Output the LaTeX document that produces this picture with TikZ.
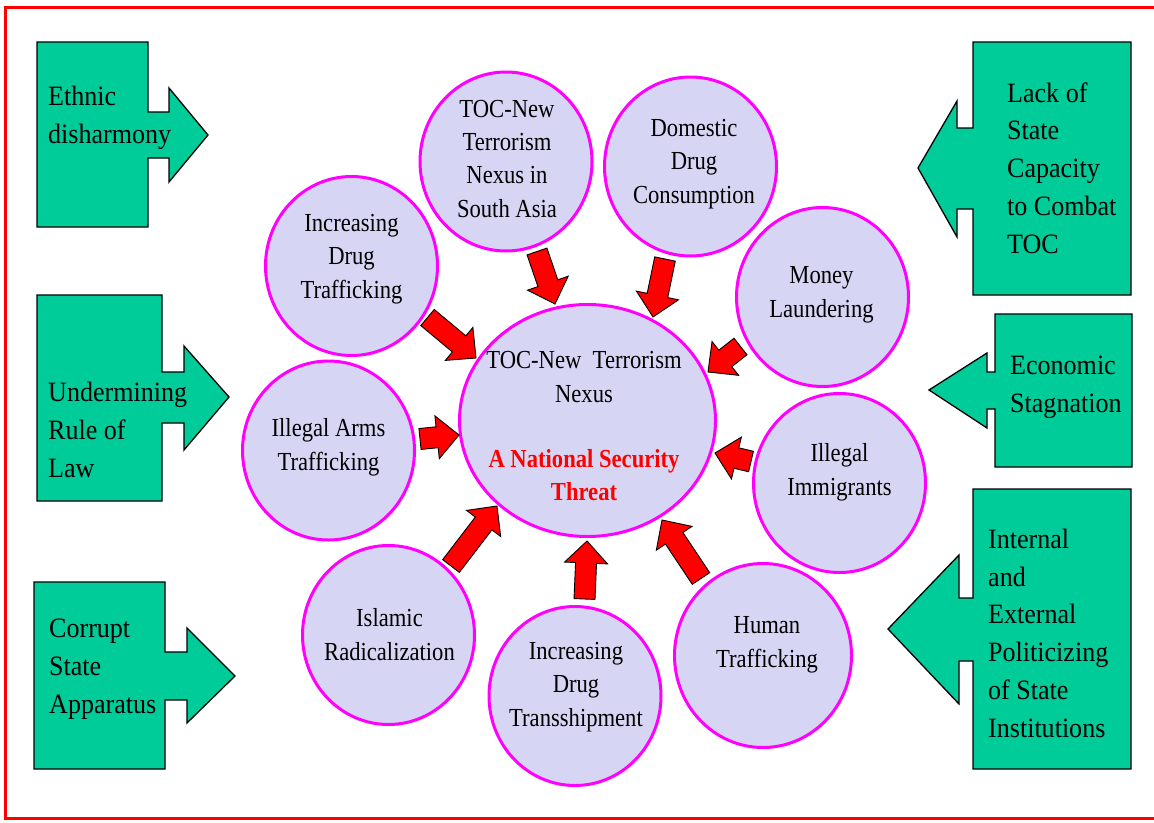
\documentclass[tikz,border=0pt]{standalone}
\usepackage{fontspec}
\setmainfont{Liberation Serif}
\newfontfamily\circf{Liberation Serif}[FakeStretch=0.87]
\newfontfamily\callf{Liberation Serif}[FakeStretch=0.93]
\usetikzlibrary{shapes.geometric,calc}
\definecolor{grn}{RGB}{0,204,153}
\definecolor{lav}{RGB}{214,214,244}
\definecolor{mag}{RGB}{255,0,255}
\definecolor{rd}{RGB}{255,0,0}
\newcommand\blkarrow[2]{%
  \path ($(#2)!22pt!(#1)$) coordinate (hb);
  \draw[redarr] ($(#1)!10.5pt!90:(#2)$) -- ($(hb)!10.5pt!90:(#2)$) -- ($(hb)!21.5pt!90:(#2)$) -- (#2)
    -- ($(hb)!21.5pt!-90:(#2)$) -- ($(hb)!10.5pt!-90:(#2)$) -- ($(#1)!10.5pt!-90:(#2)$) -- cycle;}
\tikzset{
  bub/.style={ellipse, draw=mag, fill=lav, line width=3, minimum width=172, minimum height=179, inner sep=0},
  bigbub/.style={ellipse, draw=mag, fill=lav, line width=3, minimum width=256, minimum height=232, inner sep=0},
  ctext/.style={anchor=base, align=center, inner sep=0, font=\circf\fontsize{26}{33.3}\selectfont},
  ltext/.style={anchor=base west, align=left, inner sep=0, font=\callf\fontsize{28}{37.7}\selectfont},
  callout/.style={draw=black, fill=grn, line width=1.3, line join=miter},
  redarr/.style={draw=black, fill=rd, line width=0.9, line join=miter},
}
\begin{document}
\begin{tikzpicture}[x=1pt,y=-1pt]
\useasboundingbox (0,0) rectangle (1154,822);
\fill[white] (0,0) rectangle (1154,822);
\draw[rd, line width=3.5] (5.5,7.5) rectangle (1170,818.5);

% left callouts (text anchors: baseline of last line)
\draw[callout] (37,42) -- (148,42) -- (148,112) -- (169,112) -- (169,88) -- (208,135) -- (169,182) -- (169,158) -- (148,158) -- (148,227) -- (37,227) -- cycle;
\node[ltext] (c1) at (48,143) {Ethnic\\disharmony};
\draw[callout] (37,295) -- (162,295) -- (162,372) -- (184,372) -- (184,346) -- (229,397) -- (184,450) -- (184,423) -- (162,423) -- (162,501) -- (37,501) -- cycle;
\node[ltext] (c2) at (48,477) {Undermining\\Rule of\\Law};
\draw[callout] (34,582) -- (165,582) -- (165,652) -- (187,652) -- (187,628) -- (235,676) -- (187,723) -- (187,700) -- (165,700) -- (165,769) -- (34,769) -- cycle;
\node[ltext] (c3) at (49,713) {Corrupt\\State\\Apparatus};

% right callouts
\draw[callout] (1131,42) -- (973,42) -- (973,128) -- (957,128) -- (957,101) -- (918,168) -- (957,237) -- (957,209) -- (973,209) -- (973,295) -- (1131,295) -- cycle;
\node[ltext] (c4) at (1007,253) {Lack of\\State\\Capacity\\to Combat\\TOC};
\draw[callout] (1132,314) -- (995,314) -- (995,372) -- (987,372) -- (987,353) -- (929,390) -- (987,428) -- (987,409) -- (995,409) -- (995,467) -- (1132,467) -- cycle;
\node[ltext] (c5) at (1010,412) {Economic\\Stagnation};
\draw[callout] (1131,489) -- (973,489) -- (973,598) -- (959,598) -- (959,555) -- (888,629) -- (959,704) -- (959,661) -- (973,661) -- (973,769) -- (1131,769) -- cycle;
\node[ltext] (c6) at (988,737) {Internal\\and\\External\\Politicizing\\of State\\Institutions};

% bubbles
\node[bub] (sa) at (506,161.5) {};
\node[bub] (idt) at (351.5,266) {};
\node[bub] (dd) at (690.5,166.5) {};
\node[bub] (ml) at (822.5,297) {};
\node[bub] (iat) at (328.5,450.5) {};
\node[bub] (ir) at (388.5,635) {};
\node[bub] (ids) at (575,696) {};
\node[bub, minimum width=177, minimum height=184] (ht) at (763,655.5) {};
\node[bub] (ii) at (839.5,483) {};
\node[bigbub] (nx) at (587.5,420.5) {};

\node[ctext] (tsa) at (507,217) {TOC-New\\Terrorism\\Nexus in\\South Asia};
\node[ctext] (tidt) at (351.5,298) {Increasing\\Drug\\Trafficking};
\node[ctext] (tdd) at (694,203) {Domestic\\Drug\\Consumption};
\node[ctext] (tml) at (821.5,317) {Money\\Laundering};
\node[ctext] (tiat) at (328.5,470) {Illegal Arms\\Trafficking};
\node[ctext] (tir) at (389.5,660) {Islamic\\Radicalization};
\node[ctext] (tids) at (576,726) {Increasing\\Drug\\Transshipment};
\node[ctext] (tht) at (767,667) {Human\\Trafficking};
\node[ctext] (tii) at (839.5,495) {Illegal\\Immigrants};
\node[ctext] (tnx) at (584,402) {TOC-New\ \ Terrorism\\Nexus};
\node[ctext, text=rd, font=\circf\bfseries\fontsize{26}{32.5}\selectfont] (tthr) at (584,500) {A National Security\\Threat};

% red arrows
\coordinate (a1t) at (537,251.5); \coordinate (a1p) at (555,304);
\coordinate (a2t) at (665,259);   \coordinate (a2p) at (653,317);
\coordinate (a3t) at (740.5,346.5); \coordinate (a3p) at (708,372);
\coordinate (a4t) at (427.5,317.5); \coordinate (a4p) at (476,358);
\coordinate (a5t) at (420,439);   \coordinate (a5p) at (459,435);
\coordinate (a6t) at (451,566);   \coordinate (a6p) at (497,506);
\coordinate (a7t) at (584.5,599); \coordinate (a7p) at (587,541);
\coordinate (a8t) at (701,578.5); \coordinate (a8p) at (662,520);
\coordinate (a9t) at (751,461.5); \coordinate (a9p) at (715,453);
\blkarrow{a1t}{a1p}
\blkarrow{a2t}{a2p}
\blkarrow{a3t}{a3p}
\blkarrow{a4t}{a4p}
\blkarrow{a5t}{a5p}
\blkarrow{a6t}{a6p}
\blkarrow{a7t}{a7p}
\blkarrow{a8t}{a8p}
\blkarrow{a9t}{a9p}
\end{tikzpicture}
\end{document}
